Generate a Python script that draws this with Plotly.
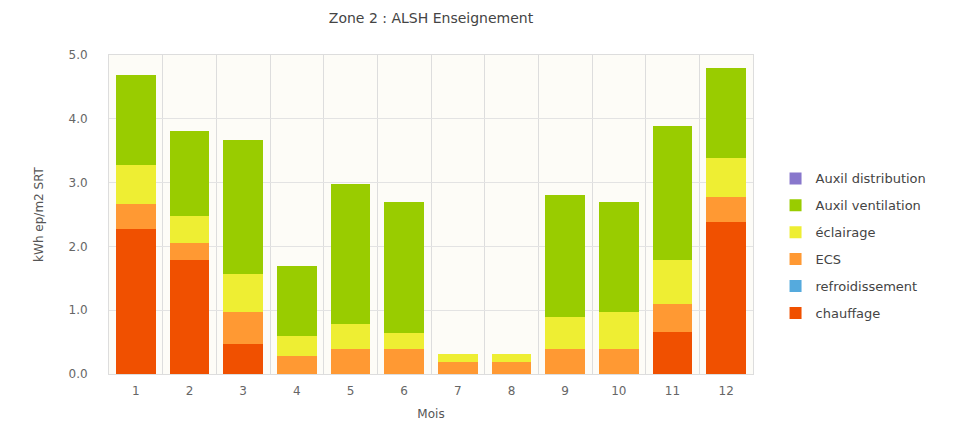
import plotly.graph_objects as go

months = [1, 2, 3, 4, 5, 6, 7, 8, 9, 10, 11, 12]
month_labels = ["1", "2", "3", "4", "5", "6", "7", "8", "9", "10", "11", "12"]

chauffage = [2.28, 1.79, 0.47, 0, 0, 0, 0, 0, 0, 0, 0.66, 2.38]
refroidissement = [0, 0, 0, 0, 0, 0, 0, 0, 0, 0, 0, 0]
ecs = [0.38, 0.27, 0.50, 0.29, 0.39, 0.39, 0.19, 0.19, 0.39, 0.39, 0.43, 0.39]
eclairage = [0.62, 0.42, 0.59, 0.30, 0.40, 0.26, 0.12, 0.12, 0.50, 0.58, 0.70, 0.62]
auxil_ventilation = [1.40, 1.33, 2.11, 1.10, 2.19, 2.04, 0, 0, 1.92, 1.72, 2.09, 1.40]
auxil_distribution = [0, 0, 0, 0, 0, 0, 0, 0, 0, 0, 0, 0]

series = [
    ("chauffage", chauffage, "#f05000"),
    ("refroidissement", refroidissement, "#55aadd"),
    ("ECS", ecs, "#ff9933"),
    ("éclairage", eclairage, "#eeee33"),
    ("Auxil ventilation", auxil_ventilation, "#99cc00"),
    ("Auxil distribution", auxil_distribution, "#8877cc"),
]

fig = go.Figure()
n = len(series)
for i, (name, vals, col) in enumerate(series):
    fig.add_trace(go.Bar(x=months, y=vals, name=name, legendgroup=name, legendrank=n - i,
                         marker=dict(color=col, line=dict(width=0))))

font = "DejaVu Sans, Verdana, sans-serif"
fig.update_layout(
    width=956, height=423,
    barmode="stack", bargap=0.255,
    paper_bgcolor="white", plot_bgcolor="#fdfcf7",
    margin=dict(l=101, r=211, t=47, b=57),
    font=dict(family=font, size=12, color="#666666"),
    title=dict(text="Zone 2 : ALSH Enseignement", x=0.5, xanchor="center", xref="paper",
               y=0.975, yanchor="middle", font=dict(size=14, color="#444444")),
    legend=dict(traceorder="grouped", x=1.035, xanchor="left", y=0.66, yanchor="top",
                tracegroupgap=7,
                font=dict(size=13, color="#444444"), bgcolor="rgba(0,0,0,0)"),
    xaxis=dict(range=[0.5, 12.5], tickvals=months, ticktext=month_labels, showgrid=False,
               showline=True, linecolor="#dddddd", mirror=True, ticks="", zeroline=False,
               ticklabelstandoff=6,
               title=dict(text="Mois", font=dict(size=12, color="#555555"), standoff=12),
               minor=dict(tick0=0.5, dtick=1, showgrid=True, gridcolor="#dddddd", gridwidth=1, ticks="")),
    yaxis=dict(range=[0, 5], dtick=1, tickformat=".1f", showgrid=True, gridcolor="#e3e3e3",
               showline=True, linecolor="#dddddd", mirror=True, zeroline=False, ticks="",
               ticklabelstandoff=18,
               title=dict(text="kWh ep/m2 SRT", font=dict(size=12, color="#555555"), standoff=22)),
)

fig.write_html("out.html")
